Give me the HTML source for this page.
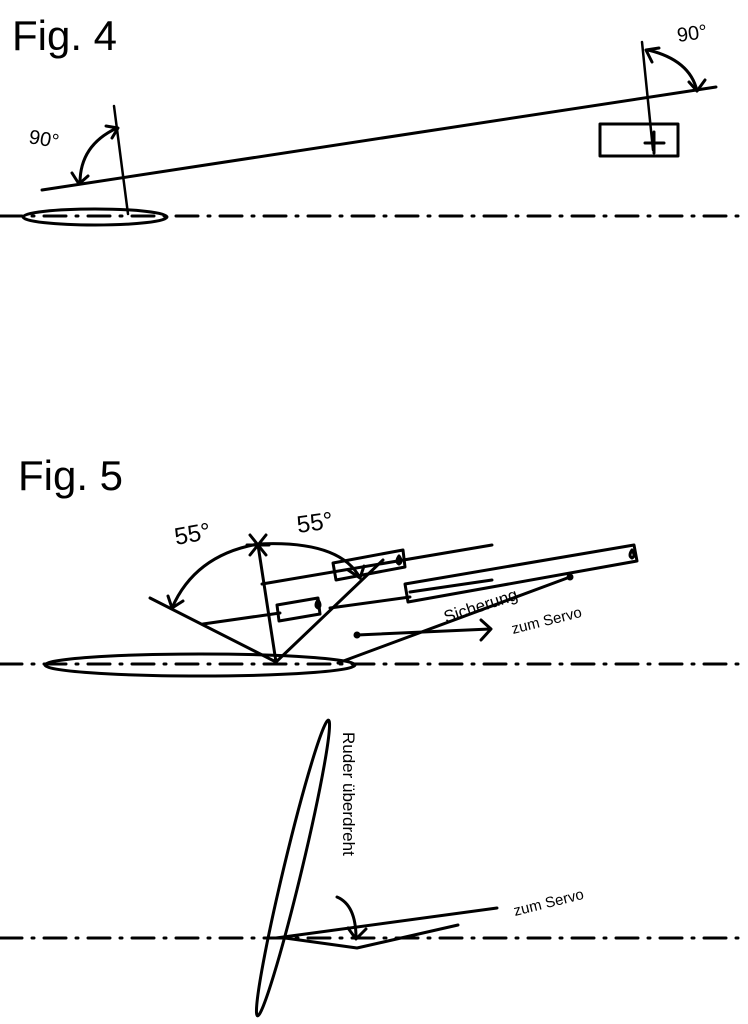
<!DOCTYPE html>
<html><head><meta charset="utf-8"><style>
html,body{margin:0;padding:0;background:#fff;}
svg{display:block}
text{font-family:"Liberation Sans",sans-serif;fill:#000}
</style></head><body>
<svg width="748" height="1024" viewBox="0 0 748 1024" xmlns="http://www.w3.org/2000/svg">
<g fill="none" stroke="#000" stroke-width="3" stroke-linecap="round" stroke-linejoin="round">
<line x1="0" y1="216" x2="748" y2="216" stroke-dasharray="22 10 2 10"/>
<ellipse cx="95" cy="217" rx="72" ry="8"/>
<line x1="42" y1="190" x2="716" y2="87"/>
<line x1="114" y1="106" x2="128" y2="214" stroke-width="2.5"/>
<path d="M117 128 Q80 145 80 183"/>
<path d="M106 126 L118 128 L112 138"/>
<path d="M72 173 L79 184 L88 176"/>
<line x1="642" y1="42" x2="653" y2="150" stroke-width="2.5"/>
<rect x="600" y="124" width="78" height="32"/>
<line x1="645" y1="143" x2="664" y2="143"/>
<line x1="654" y1="132" x2="654" y2="153"/>
<path d="M648 50 Q690 60 697 91"/>
<path d="M652 62 L646 50 L659 48"/>
<path d="M689 82 L697 91 L705 80"/>
<line x1="0" y1="664" x2="748" y2="664" stroke-dasharray="22 10 2 10"/>
<ellipse cx="200" cy="665" rx="155" ry="11"/>
<line x1="276" y1="662" x2="258" y2="545"/>
<line x1="150" y1="598" x2="276" y2="662"/>
<line x1="276" y1="662" x2="383" y2="560"/>
<line x1="250" y1="535" x2="266" y2="555"/><line x1="266" y1="535" x2="250" y2="555"/><line x1="247" y1="545" x2="269" y2="545"/>
<path d="M258 544 Q195 555 172 608"/>
<path d="M168 596 L172 608 L183 601"/>
<path d="M258 544 Q340 540 360 578"/>
<path d="M348 570 L360 578 L364 566"/>
<line x1="262" y1="584" x2="492" y2="545"/>
<polygon points="333,563 403,550 405,567 336,580"/>
<path d="M399 556 q-4 6 0 8 q4 -2 0 -8"/>
<line x1="203" y1="624" x2="280" y2="613"/>
<polygon points="277,605 318,598 320,614 279,621"/>
<path d="M318 600 q-4 6 0 8 q4 -2 0 -8"/>
<line x1="330" y1="608" x2="410" y2="597"/>
<polygon points="405,584 634,545 637,561 408,602"/>
<path d="M632 550 q-4 6 0 8 q4 -2 0 -8"/>
<line x1="410" y1="592" x2="492" y2="580"/>
<line x1="338" y1="663" x2="570" y2="577"/>
<circle cx="570" cy="577" r="2" fill="#000"/>
<line x1="357" y1="635" x2="490" y2="629"/>
<circle cx="357" cy="635" r="2" fill="#000"/>
<path d="M481 620 L491 629 L481 640"/>
<line x1="0" y1="938" x2="748" y2="938" stroke-dasharray="22 10 2 10"/>
<ellipse cx="293" cy="868" rx="152" ry="9" transform="rotate(-76.5 293 868)"/>
<line x1="276" y1="938" x2="497" y2="908"/>
<polyline points="285,938 357,948 458,925"/>
<path d="M337 897 Q356 905 356 938"/>
<path d="M348 928 L356 939 L366 929"/>
</g>
<text x="12" y="50" font-size="42">Fig. 4</text>
<text x="18" y="490" font-size="42">Fig. 5</text>
<text x="28" y="143" font-size="20" transform="rotate(10 28 143)">90°</text>
<text x="678" y="42" font-size="20" transform="rotate(-8 678 42)">90°</text>
<text x="176" y="545" font-size="24" transform="rotate(-10 176 545)">55°</text>
<text x="298" y="533" font-size="24" transform="rotate(-8 298 533)">55°</text>
<text x="446" y="623" font-size="17" transform="rotate(-18 446 623)">Sicherung</text>
<text x="513" y="634" font-size="15" transform="rotate(-14 513 634)">zum Servo</text>
<text x="515" y="916" font-size="15" transform="rotate(-14 515 916)">zum Servo</text>
<text x="343" y="732" font-size="17" transform="rotate(90 343 732)">Ruder überdreht</text>
</svg>
</body></html>
